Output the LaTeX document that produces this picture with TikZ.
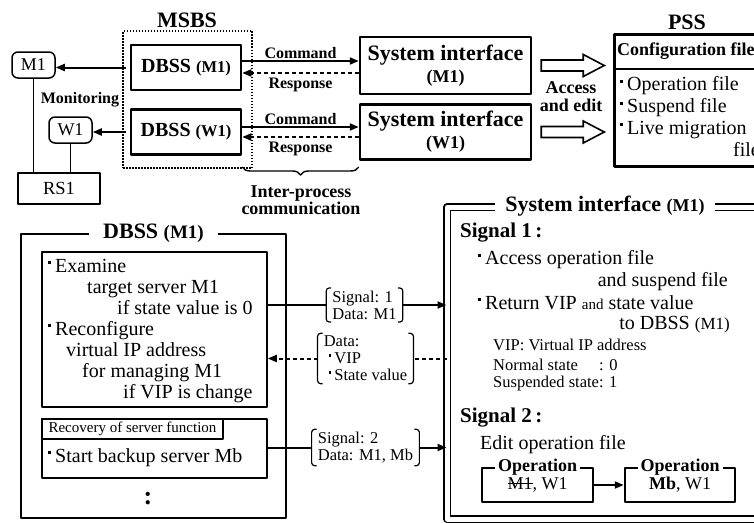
\documentclass[tikz,border=0pt]{standalone}
\usepackage{fontspec}
\setmainfont{Liberation Serif}
\usetikzlibrary{arrows.meta,decorations.pathreplacing}
\newcommand\fsz[1]{\fontsize{#1}{#1}\selectfont}
\newcommand\bul{\hspace{.05em}\raisebox{.42em}{\rule{.15em}{.15em}}\hspace{.2em}}
\newcommand\strk[1]{\setbox0\hbox{#1}\rlap{\rule[.3em]{\wd0}{.06em}}\box0}
\newcommand\brk[1]{\draw[line width=1.2pt,rounded corners=3pt] ([xshift=5pt]#1.north west) -- (#1.north west) -- (#1.south west) -- ([xshift=5pt]#1.south west) ([xshift=-5pt]#1.north east) -- (#1.north east) -- (#1.south east) -- ([xshift=-5pt]#1.south east);}
\newcommand\hollow[1]{\draw[line width=1.6pt,line join=miter] ([xshift=9pt,yshift=5.5pt]#1.east) -- ++(42,0) -- ++(0,-5.5) -- ++(21,11) -- ++(-21,11) -- ++(0,-5.5) -- ++(-42,0) -- cycle;}
\begin{document}
\begin{tikzpicture}[x=1pt,y=-1pt,line join=round,>={Triangle[length=9pt,width=7pt]},
    tbox/.style={draw,line width=2.5pt,inner sep=0pt},
    nbox/.style={draw,line width=1.5pt,inner sep=0pt},
    rbox/.style={draw,line width=1.5pt,rounded corners=6pt,minimum width=43,minimum height=26,font=\fsz{18}},
    dsh/.style={dash pattern=on 4pt off 3pt},
    hd/.style={font=\fsz{22}\bfseries},
    lbl/.style={font=\fsz{16}\bfseries,inner sep=1.5pt},
    txt/.style={font=\fsz{20},inner sep=0pt,anchor=west},
    sml/.style={font=\fsz{16.5},inner sep=0pt,anchor=west},
    sig/.style={font=\fontsize{16.5}{17}\selectfont,align=left,inner xsep=6pt,inner ysep=2.5pt}]
\useasboundingbox (0,0) rectangle (754,522);
% MSBS
\node[hd] (msbs) at (187,20) {MSBS};
\node[draw,line width=1.3pt,dash pattern=on 1.5pt off 1.5pt,minimum width=129,minimum height=137] (msbsbox) at (187.5,99.5) {};
\node[tbox,minimum width=110,minimum height=45,font=\fsz{20}\bfseries] (dbm) at (186,67.5) {DBSS {\fsz{16.5}(M1)}};
\node[tbox,minimum width=110,minimum height=45,font=\fsz{20}\bfseries] (dbw) at (186,132) {DBSS {\fsz{16.5}(W1)}};
\node[rbox] (m1) at (33.5,65) {M1};
\node[rbox] (w1) at (70.5,130) {W1};
\node[nbox,minimum width=82,minimum height=31,font=\fsz{18.5}] (rs1) at (59,188.5) {RS1};
\draw[line width=1.5pt] (m1) -- (m1 |- rs1.north) (w1) -- (w1 |- rs1.north);
\node[lbl] (mon) at (80,100) {Monitoring};
\draw[->,line width=2pt] ([xshift=-4pt]dbm.west) -- (m1.east |- dbm.west);
\draw[->,line width=2pt] ([xshift=-4pt]dbw.west) -- (w1.east |- dbw.west);
% system interfaces
\node[tbox,minimum width=171,minimum height=57,align=center,font=\fontsize{22}{22}\selectfont\bfseries] (sim) at (445.5,65.5) {System interface\\{\fsz{18}(M1)}};
\node[tbox,minimum width=171,minimum height=55,align=center,font=\fontsize{22}{22}\selectfont\bfseries] (siw) at (445.5,132) {System interface\\{\fsz{18}(W1)}};
\draw[->,line width=2pt] ([yshift=6.5pt]dbm.east) -- ([yshift=6.5pt]dbm.east -| sim.west) node[lbl,midway,above]{Command};
\draw[->,line width=2pt,dsh] ([yshift=-5.5pt]dbm.east -| sim.west) -- ([yshift=-5.5pt]dbm.east) node[lbl,midway,below,yshift=-3pt]{Response};
\draw[->,line width=2pt] ([yshift=5pt]dbw.east) -- ([yshift=5pt]dbw.east -| siw.west) node[lbl,midway,above]{Command};
\draw[->,line width=2pt,dsh] ([yshift=-5pt]dbw.east -| siw.west) -- ([yshift=-5pt]dbw.east) node[lbl,midway,below,yshift=-3pt]{Response};
\draw[line width=1.4pt,decorate,decoration={brace,mirror,amplitude=8pt}] (dbw.east |- 0,167) -- (siw.west |- 0,167);
\node[font=\fontsize{18}{16}\selectfont\bfseries,align=center] (ipc) at (301,200) {Inter-process\\communication};
% PSS
\hollow{sim}
\hollow{siw}
\node[font=\fontsize{18}{18}\selectfont\bfseries,align=center] (acc) at (571,97) {Access\\and edit};
\node[hd] (pss) at (687,22) {PSS};
\node[tbox,minimum width=180,minimum height=132,anchor=north west] (pssbox) at (613,33) {};
\draw[line width=1.8pt] ([yshift=-36pt]pssbox.north west) -- ([yshift=-36pt]pssbox.north east);
\node[font=\fsz{18}\bfseries,anchor=west,inner sep=0pt] (cfg) at (617,51) {Configuration files};
\node[txt] (opf) at (619,86) {\bul Operation file};
\node[txt] (susf) at (619,108) {\bul Suspend file};
\node[txt] (livf) at (619,130) {\bul Live migration};
\node[txt] (livf2) at (733,150) {file};
% DBSS (M1)
\node[draw,line width=2.2pt,minimum width=265,minimum height=284] (dbf) at (153.5,376) {};
\node[fill=white,inner xsep=14pt,inner ysep=2pt,font=\fsz{22}\bfseries] (dbft) at (dbf.north) {DBSS {\fsz{19}(M1)}};
\node[nbox,minimum width=225,minimum height=155] (b1) at (154.5,329.5) {};
\node[font=\fontsize{20}{21}\selectfont,align=left,anchor=north west,inner sep=0pt] (b1t) at (47,259) {\bul Examine\\\hspace*{40pt}target server M1\\\hspace*{70pt}if state value is 0\\\bul Reconfigure\\\hspace*{19pt}virtual IP address\\\hspace*{35pt}for managing M1\\\hspace*{76pt}if VIP is change};
\node[nbox,minimum width=225,minimum height=59] (b2) at (154.5,448.5) {};
\node[nbox,minimum width=181,minimum height=20,anchor=north west,font=\fsz{15}] (rec) at (b2.north west) {Recovery of server function};
\node[txt] (bak) at (47,458) {\bul Start backup server Mb};
\node[font=\fsz{26}\bfseries,inner sep=0pt] (dots) at (148,499) {:};
% System interface (M1)
\node[draw,double,line width=1.4pt,double distance=5pt,minimum width=360,minimum height=312,anchor=north west,inner sep=0pt] (sif) at (446.5,206.5) {};
\node[fill=white,inner xsep=10pt,inner ysep=1pt,font=\fsz{22}\bfseries] (sift) at (605,206.5) {System interface {\fsz{18}(M1)}};
\node[font=\fsz{21}\bfseries,anchor=west,inner sep=0pt] (sg1) at (460,233) {Signal 1\,:};
\node[txt] (acc1) at (477,260) {\bul Access operation file};
\node[txt,anchor=east] (acc2) at (728,282) {and suspend file};
\node[txt] (ret1) at (477,303) {\bul Return VIP {\fsz{15}and} state value};
\node[txt,anchor=east] (ret2) at (730,325) {to DBSS {\fsz{17}(M1)}};
\node[sml] (vipd) at (493,345) {VIP: Virtual IP address};
\node[sml] (nst) at (493,365) {\makebox[106pt][l]{Normal state}: 0};
\node[sml] (sst) at (493,384) {Suspended state: 1};
\node[font=\fsz{21}\bfseries,anchor=west,inner sep=0pt] (sg2) at (460,418) {Signal 2\,:};
\node[txt] (edit) at (480,445) {Edit operation file};
\node[tbox,minimum width=111,minimum height=34,font=\fsz{18}] (op1) at (537.5,485) {\raisebox{-4pt}{\strk{M1}, W1}};
\node[tbox,minimum width=110,minimum height=34,font=\fsz{18}] (op2) at (680,485) {\raisebox{-4pt}{\textbf{Mb}, W1}};
\node[fill=white,inner xsep=3pt,inner ysep=0pt,font=\fsz{18}\bfseries] (op1t) at (op1.north) {Operation};
\node[fill=white,inner xsep=3pt,inner ysep=0pt,font=\fsz{18}\bfseries] (op2t) at (op2.north) {Operation};
\draw[->,line width=2pt] (op1) -- (op2);
% signals
\node[sig] (s1) at (364.5,305) {Signal: 1\\Data: M1};
\brk{s1}
\draw[line width=2pt] (b1.east |- s1) -- (s1.west);
\draw[->,line width=2pt] (s1.east) -- (s1 -| sif.west);
\node[sig] (d1) at (365.5,358.5) {Data:\\\hspace*{4pt}\bul VIP\\\hspace*{4pt}\bul State value};
\brk{d1}
\draw[dsh,line width=2pt] (sif.west |- d1) -- (d1.east);
\draw[->,dsh,line width=2pt] (d1.west) -- (b1.east |- d1);
\node[sig] (s2) at (365.5,447.5) {Signal: 2\\Data: M1, Mb};
\brk{s2}
\draw[line width=2pt] (b2.east |- s2) -- (s2.west);
\draw[->,line width=2pt] (s2.east) -- (s2 -| sif.west);
\end{tikzpicture}
\end{document}
